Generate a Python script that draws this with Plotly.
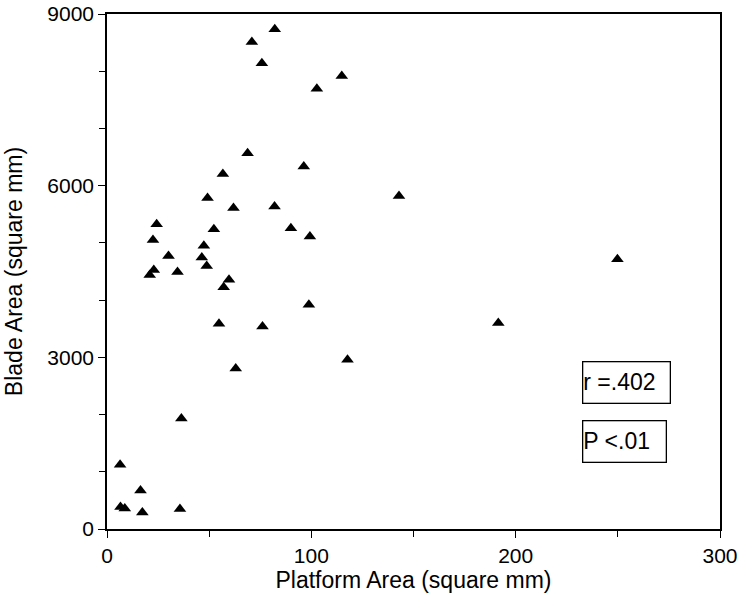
import plotly.graph_objects as go

platform_area = [82.1, 70.9, 75.8, 114.9, 102.7, 68.8, 96.3, 56.7, 49.2, 61.9,
                 82.0, 142.9, 24.3, 52.3, 90.0, 99.3, 22.5, 47.4, 30.1, 46.4,
                 34.5, 22.9, 48.8, 20.9, 59.7, 57.1, 98.8, 54.8, 76.1, 117.7,
                 63.0, 36.4, 6.4, 16.4, 6.6, 8.7, 17.3, 35.7, 191.5, 249.8]
blade_area = [8732, 8510, 8138, 7917, 7695, 6567, 6333, 6205, 5786, 5611,
              5634, 5821, 5327, 5239, 5257, 5110, 5052, 4948, 4773, 4743,
              4493, 4528, 4598, 4441, 4354, 4226, 3917, 3585, 3538, 2957,
              2805, 1932, 1123, 674, 384, 360, 290, 349, 3598, 4715]

x_ticks = [0, 100, 200, 300]
y_ticks = [0, 3000, 6000, 9000]
stats_text = ["r =.402", "P <.01"]
stats_y = [2555, 1533]
stats_w = [86, 82]

FONT = "Liberation Sans, Arial, Helvetica, sans-serif"

fig = go.Figure()
fig.add_trace(go.Scatter(
    x=platform_area, y=blade_area, mode="markers",
    marker=dict(symbol="triangle-up", size=11, color="black", line=dict(width=0)),
    showlegend=False, hoverinfo="x+y",
))

for t, yv, w in zip(stats_text, stats_y, stats_w):
    fig.add_annotation(
        x=232.4, y=yv, xref="x", yref="y", xanchor="left", yanchor="middle",
        text=t, showarrow=False, align="left",
        font=dict(family=FONT, size=23, color="black"),
        bordercolor="black", borderwidth=1.3, borderpad=0,
        width=w, height=40, bgcolor="white",
    )

axis_common = dict(
    showgrid=False, zeroline=False, showline=True, linecolor="black", linewidth=1.5,
    mirror=True, ticks="outside", ticklen=7, tickwidth=1.3, tickcolor="black",
    tickfont=dict(family=FONT, size=21, color="black"), automargin=False,
)

fig.update_xaxes(
    range=[0, 300], tickvals=x_ticks, ticktext=[str(v) for v in x_ticks],
    minor=dict(dtick=50, tick0=0, ticks="outside", ticklen=6, tickcolor="black", tickwidth=1.2),
    title=dict(text="Platform Area (square mm)", font=dict(family=FONT, size=23, color="black"), standoff=4),
    **axis_common,
)
fig.update_yaxes(
    range=[0, 9000], tickvals=y_ticks, ticktext=[str(v) for v in y_ticks],
    minor=dict(dtick=1000, tick0=0, ticks="outside", ticklen=6, tickcolor="black", tickwidth=1.2),
    title=dict(text="Blade Area (square mm)", font=dict(family=FONT, size=23, color="black"), standoff=18),
    **axis_common,
)

fig.update_layout(
    width=743, height=594,
    margin=dict(l=107, r=23, t=14, b=65),
    plot_bgcolor="white", paper_bgcolor="white",
    font=dict(family=FONT, color="black"),
)

fig.write_html("out.html")
